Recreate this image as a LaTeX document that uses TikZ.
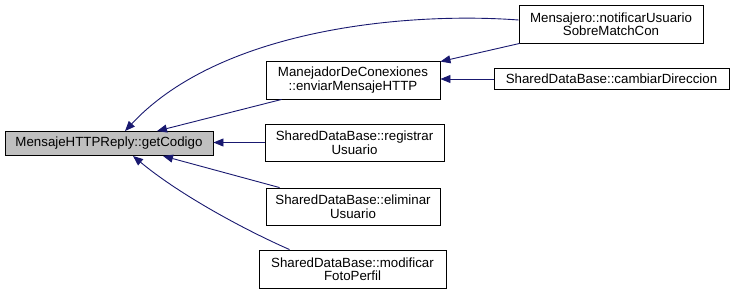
\documentclass[tikz,border=0pt]{standalone}
\usepackage{fontspec}
\setmainfont{Liberation Sans}
\usetikzlibrary{arrows.meta}
\definecolor{edgeblue}{HTML}{191970}
\definecolor{focusgray}{HTML}{BFBFBF}
\begin{document}
\begin{tikzpicture}[x=1pt,y=-1pt,
  fn/.style={draw=black,line width=0.9pt,fill=white,inner sep=0pt,align=center,
    font=\fontsize{13.3}{13.5}\selectfont},
  focus/.style={fn,fill=focusgray},
  call/.style={draw=edgeblue,line width=0.9pt,
    {Triangle[length=10pt,width=8pt,fill=edgeblue]}-}]
  \useasboundingbox (0,0) rectangle (733,293);

  % functions
  \node[focus,minimum width=208pt,minimum height=24pt] (A) at (109,143.5) {MensajeHTTPReply::getCodigo};
  \node[fn,minimum width=174pt,minimum height=38pt] (B) at (353,80) {ManejadorDeConexiones\\::enviarMensajeHTTP};
  \node[fn,minimum width=184pt,minimum height=38pt] (C) at (611,24) {Mensajero::notificarUsuario\\SobreMatchCon};
  \node[fn,minimum width=235pt,minimum height=21pt] (D) at (611.5,79) {SharedDataBase::cambiarDireccion};
  \node[fn,minimum width=179pt,minimum height=37pt] (E) at (354.5,142.5) {SharedDataBase::registrar\\Usuario};
  \node[fn,minimum width=174pt,minimum height=37pt] (F) at (353,206.5) {SharedDataBase::eliminar\\Usuario};
  \node[fn,minimum width=187pt,minimum height=38pt] (G) at (352.5,269) {SharedDataBase::modificar\\FotoPerfil};

  % callers
  \draw[call] ([xshift=16pt]A.north) .. controls (222,27) and (412,12) .. ([yshift=4pt]C.west);
  \draw[call] ([xshift=48pt]A.north) -- ([xshift=16pt]B.south west);
  \draw[call] ([yshift=-1pt]B.north east) -- ([xshift=1pt]C.south west);
  \draw[call] (D.west -| B.east) -- (D.west);
  \draw[call] (E.west -| A.east) -- (E.west);
  \draw[call] ([xshift=54pt]A.south) -- ([xshift=14pt]F.north west);
  \draw[call] ([xshift=24pt]A.south) .. controls (180,195) and (245,230) .. ([xshift=31pt]G.north west);
\end{tikzpicture}
\end{document}
